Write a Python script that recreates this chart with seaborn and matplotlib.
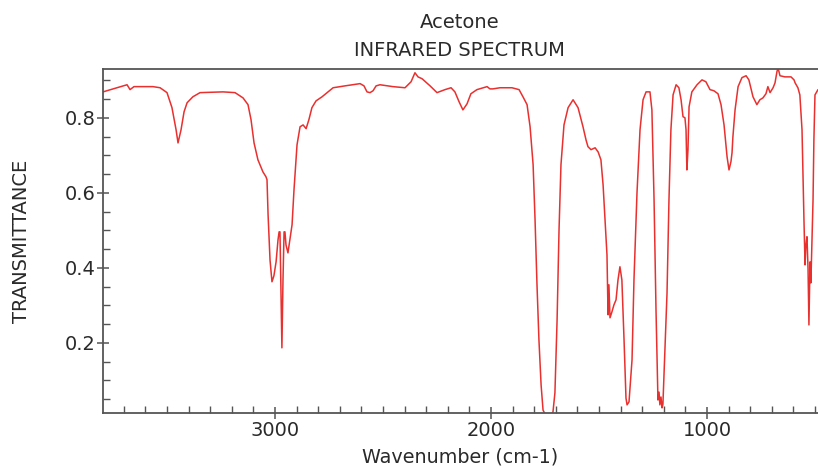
import matplotlib
matplotlib.use("Agg")
import matplotlib.pyplot as plt
from matplotlib.ticker import MultipleLocator
import pandas as pd
import seaborn as sns

# Acetone IR spectrum: wavenumber (cm-1) and transmittance
wavenumber = [
    3796, 3704, 3685, 3671, 3653, 3565, 3532, 3500, 3477, 3458, 3449, 3435, 3421, 3407,
    3380, 3347, 3241, 3185, 3148, 3125, 3111, 3097, 3079, 3056, 3042, 3037, 3032, 3023,
    3014, 3005, 2995, 2986, 2981, 2977, 2972, 2968, 2963, 2958, 2954, 2949, 2940, 2931,
    2921, 2912, 2898, 2884, 2870, 2856, 2843, 2829, 2810, 2782, 2731, 2676, 2606, 2588,
    2574, 2560, 2546, 2532, 2514, 2454, 2398, 2370, 2352, 2338, 2319, 2282, 2250, 2213,
    2185, 2167, 2148, 2130, 2111, 2093, 2065, 2018, 2005, 1991, 1958, 1903, 1870, 1852,
    1833, 1819, 1805, 1796, 1787, 1778, 1768, 1759, 1745, 1727, 1713, 1704, 1694, 1685,
    1676, 1662, 1643, 1620, 1597, 1574, 1560, 1551, 1537, 1518, 1504, 1491, 1481, 1472,
    1463, 1458, 1454, 1449, 1440, 1431, 1421, 1412, 1403, 1394, 1384, 1375, 1370, 1361,
    1347, 1338, 1324, 1310, 1296, 1282, 1264, 1255, 1245, 1236, 1227, 1222, 1218, 1213,
    1208, 1204, 1195, 1185, 1176, 1167, 1157, 1143, 1130, 1120, 1111, 1102, 1097, 1093,
    1088, 1083, 1070, 1046, 1023, 1005, 986, 968, 949, 935, 921, 907, 898, 889,
    884, 880, 870, 856, 838, 819, 806, 787, 769, 755, 741, 727, 718, 708,
    694, 685, 676, 671, 662, 639, 611, 597, 592, 579, 570, 560, 556, 551,
    546, 542, 537, 532, 528, 523, 519, 514, 509, 505, 500, 486,
]
transmittance = [
    0.869, 0.885, 0.888, 0.875, 0.883, 0.883, 0.880, 0.867, 0.827, 0.768, 0.733, 0.768, 0.816, 0.840,
    0.856, 0.867, 0.869, 0.867, 0.853, 0.835, 0.795, 0.733, 0.688, 0.656, 0.643, 0.635, 0.541, 0.421,
    0.363, 0.379, 0.416, 0.475, 0.496, 0.496, 0.315, 0.187, 0.368, 0.496, 0.496, 0.461, 0.440, 0.475,
    0.515, 0.608, 0.728, 0.776, 0.781, 0.771, 0.795, 0.827, 0.845, 0.856, 0.880, 0.885, 0.891, 0.885,
    0.869, 0.867, 0.872, 0.885, 0.888, 0.883, 0.880, 0.896, 0.920, 0.909, 0.904, 0.885, 0.867, 0.875,
    0.880, 0.869, 0.843, 0.821, 0.837, 0.864, 0.875, 0.883, 0.877, 0.877, 0.880, 0.880, 0.875, 0.856,
    0.835, 0.776, 0.675, 0.528, 0.355, 0.208, 0.088, 0.021, 0.005, 0.005, 0.016, 0.067, 0.261, 0.501,
    0.675, 0.781, 0.827, 0.848, 0.827, 0.776, 0.741, 0.723, 0.715, 0.720, 0.709, 0.688, 0.621, 0.528,
    0.435, 0.275, 0.355, 0.267, 0.283, 0.301, 0.315, 0.368, 0.403, 0.368, 0.208, 0.053, 0.035, 0.043,
    0.155, 0.368, 0.600, 0.768, 0.848, 0.869, 0.869, 0.821, 0.581, 0.288, 0.048, 0.069, 0.035, 0.056,
    0.027, 0.037, 0.181, 0.333, 0.581, 0.768, 0.861, 0.888, 0.880, 0.848, 0.803, 0.800, 0.768, 0.661,
    0.715, 0.829, 0.869, 0.888, 0.901, 0.896, 0.875, 0.872, 0.864, 0.835, 0.781, 0.696, 0.661, 0.683,
    0.707, 0.749, 0.821, 0.883, 0.907, 0.912, 0.901, 0.856, 0.835, 0.848, 0.853, 0.864, 0.883, 0.867,
    0.880, 0.893, 0.923, 0.933, 0.912, 0.909, 0.909, 0.901, 0.893, 0.880, 0.861, 0.768, 0.661, 0.528,
    0.408, 0.461, 0.483, 0.395, 0.248, 0.416, 0.360, 0.475, 0.581, 0.741, 0.861, 0.875,
]

df = pd.DataFrame({"Wavenumber": wavenumber, "Transmittance": transmittance})

sns.set_style("white")
plt.rcParams["font.family"] = ["DejaVu Sans"]

text_color = "#2a2a2a"

fig = plt.figure(figsize=(8.18, 4.69), dpi=100)
ax = fig.add_axes([0.126, 0.1194, 0.874, 0.7335])

sns.lineplot(data=df, x="Wavenumber", y="Transmittance", estimator=None, sort=False,
             color="#e8302f", linewidth=1.1, ax=ax)

ax.set_xlim(3796, 486)
ax.set_ylim(0.0133, 0.93)

ax.xaxis.set_major_locator(MultipleLocator(1000))
ax.xaxis.set_minor_locator(MultipleLocator(100))
ax.yaxis.set_minor_locator(MultipleLocator(0.05))
ax.set_yticks([0.2, 0.4, 0.6, 0.8])
ax.set_yticklabels(["0.2", "0.4", "0.6", "0.8"])

spine_color = "#555555"
for side in ("left", "bottom", "top"):
    ax.spines[side].set_visible(True)
    ax.spines[side].set_color(spine_color)
    ax.spines[side].set_linewidth(1.3)
ax.spines["right"].set_visible(False)

ax.tick_params(axis="both", which="major", direction="inout", length=9, width=1.1,
               color=spine_color, labelsize=14, labelcolor=text_color)
ax.tick_params(axis="x", which="major", pad=1.5)
ax.tick_params(axis="y", which="major", pad=0.8)
ax.tick_params(axis="both", which="minor", direction="in", length=5, width=1.0,
               color=spine_color)
ax.tick_params(axis="both", which="both", bottom=True, left=True, top=False, right=False)

ax.set_xlabel("Wavenumber (cm-1)", fontsize=13.8, color=text_color, labelpad=5)
ax.set_ylabel("TRANSMITTANCE", fontsize=14, color=text_color, labelpad=24)

fig.text(0.562, 0.953, "Acetone", ha="center", va="center", fontsize=14, color=text_color)
fig.text(0.562, 0.893, "INFRARED SPECTRUM", ha="center", va="center", fontsize=14,
         color=text_color)

fig.savefig("out.png", dpi=100)
